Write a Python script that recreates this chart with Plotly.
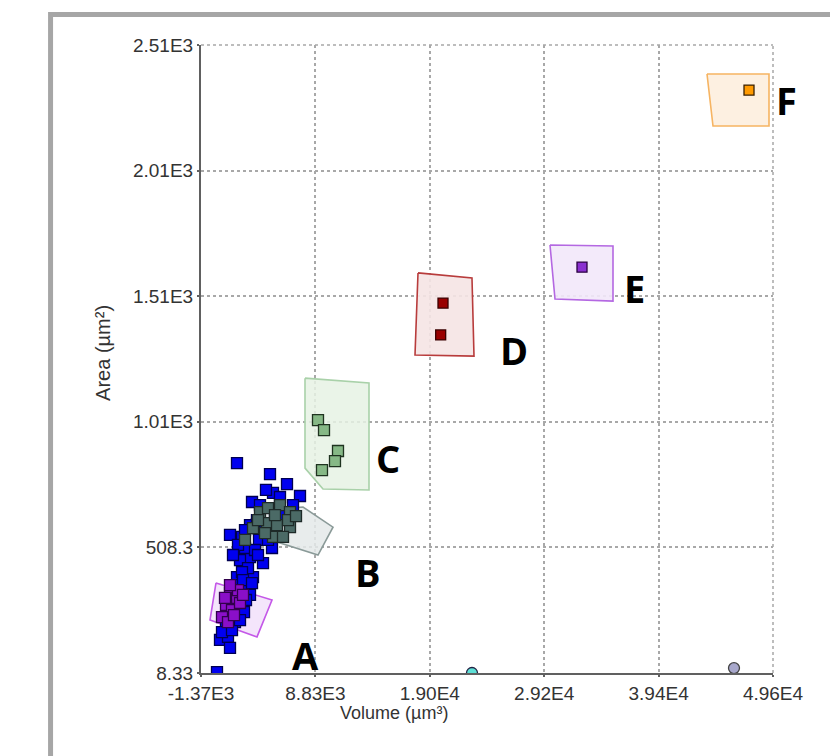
import plotly.graph_objects as go

# ---- axis ticks ----
x_tickvals = [-1370, 8830, 19030, 29230, 39430, 49630]
x_ticktext = ["-1.37E3", "8.83E3", "1.90E4", "2.92E4", "3.94E4", "4.96E4"]
y_tickvals = [8.33, 508.33, 1008.33, 1508.33, 2008.33, 2508.33]
y_ticktext = ["8.33", "508.3", "1.01E3", "1.51E3", "2.01E3", "2.51E3"]

# ---- population points (volume, area) ----
blue_x = [1840, 4782, 6298, 5050, 3177, 7457, 6833, 1216, 2286, 3801, 2999, 4960, 4158, 3266,
          1840, 2731, 324, 1037, 57, 2553, 3445, 2107, 3712, 2821, 2286, 1661, 2375, 2999, 1394,
          1929, 2464, 1037, 859, 1661, 502, 1394, 4336, 5228, 5852, 2999, 1929, 4604, 3623, 2553,
          1483, 3177, 2642, 2107, 3890, 5674, 4425, 1216]
blue_y = [844, 800, 760, 725, 689, 713, 677, 558, 550, 538, 470, 506, 446, 390,
          390, 351, 140, 152, 12, 506, 498, 458, 478, 426, 410, 358, 378, 319, 307,
          279, 251, 251, 199, 211, 171, 179, 577, 617, 637, 597, 518, 538, 617, 577,
          478, 366, 299, 219, 677, 709, 737, 108]

b_x = [3890, 4604, 5674, 6565, 3266, 4515, 5406, 6565, 5050, 5941, 4336, 6387, 7100, 5228, 3712, 2553]
b_y = [649, 665, 677, 649, 585, 605, 597, 589, 550, 550, 565, 617, 633, 637, 617, 538]

a_x = [1216, 1840, 859, 1394, 2107, 502, 1037, 1572, 1929, 2375, 770, 1216]
a_y = [327, 307, 279, 259, 287, 231, 211, 239, 338, 319, 307, 358]

c_x = [9062, 9597, 10845, 10577, 9418]
c_y = [1015, 975, 892, 852, 816]

d_x = [20207, 19999]
d_y = [1481, 1354]

e_x = [32600]
e_y = [1624]

f_x = [47490]
f_y = [2329]

circle_x = [22792, 46152]
circle_y = [8.33, 28]

# ---- gate polygons (volume, area) ----
gate_a_x = [-33, 4960, 3623, -568]
gate_a_y = [367, 299, 152, 219]
gate_b_x = [2107, 4069, 7724, 10399, 9062, 3445]
gate_b_y = [585, 657, 669, 589, 478, 558]
gate_c_x = [7903, 13609, 13609, 9508, 7903]
gate_c_y = [1182, 1163, 737, 741, 824]
gate_d_x = [17978, 22792, 22971, 17710]
gate_d_y = [1601, 1581, 1270, 1274]
gate_e_x = [29747, 35364, 35364, 30193]
gate_e_y = [1712, 1708, 1489, 1497]
gate_f_x = [43745, 49273, 49273, 44280]
gate_f_y = [2393, 2393, 2186, 2186]

labels = ["A", "B", "C", "D", "E", "F"]
label_px = [0.182, 0.292, 0.327, 0.547, 0.757, 1.024]
label_py = [0.029, 0.161, 0.342, 0.514, 0.613, 0.912]

fig = go.Figure()

def gate(xs, ys, line, fill):
    fig.add_trace(go.Scatter(x=xs + xs[:1], y=ys + ys[:1], mode="lines", fill="toself",
                             line=dict(color=line, width=1.6), fillcolor=fill,
                             hoverinfo="skip", showlegend=False))

gate(gate_a_x, gate_a_y, "#c458e8", "rgba(242,225,250,0.85)")
gate(gate_b_x, gate_b_y, "#8a9a98", "rgba(228,233,233,0.85)")
gate(gate_c_x, gate_c_y, "#a9d1a9", "rgba(230,242,228,0.85)")
gate(gate_d_x, gate_d_y, "#b83c3c", "rgba(245,228,228,0.9)")
gate(gate_e_x, gate_e_y, "#b468e2", "rgba(242,232,250,0.9)")
gate(gate_f_x, gate_f_y, "#f6b462", "rgba(253,238,222,0.9)")

def pts(xs, ys, fill, edge, symbol="square", size=11):
    fig.add_trace(go.Scatter(x=xs, y=ys, mode="markers",
                             marker=dict(symbol=symbol, size=size, color=fill,
                                         line=dict(color=edge, width=1.3)),
                             showlegend=False))

pts(blue_x, blue_y, "#0000f0", "#000050")
pts(b_x, b_y, "#4b6a66", "#1e2a28")
pts(a_x, a_y, "#8a0fc8", "#30004a")
pts(c_x, c_y, "#86b886", "#1f3320")
pts(d_x, d_y, "#990000", "#3a0000", size=10)
pts(e_x, e_y, "#8a30d0", "#2a0040", size=10)
pts(f_x, f_y, "#ff9a00", "#3a2000", size=10)
pts(circle_x[:1], circle_y[:1], "#5ee0d6", "#224", symbol="circle", size=11)
pts(circle_x[1:], circle_y[1:], "#a8a8cc", "#444", symbol="circle", size=11)

for t, px, py in zip(labels, label_px, label_py):
    fig.add_annotation(text="<b>" + t + "</b>", x=px, y=py, xref="paper", yref="paper",
                       xanchor="center", yanchor="middle", showarrow=False,
                       font=dict(family="Open Sans", size=38, color="#000"))

fig.add_annotation(text="Volume (µm³)", x=0.3374, y=-0.064, xref="paper", yref="paper",
                   xanchor="center", yanchor="middle", showarrow=False,
                   font=dict(family="Liberation Sans", size=18, color="#333"))
fig.add_annotation(text="Area (µm²)", x=-0.171, y=0.51, xref="paper", yref="paper",
                   xanchor="center", yanchor="middle", showarrow=False, textangle=-90,
                   font=dict(family="Liberation Sans", size=20, color="#333"))

# outer gray frame
fig.add_shape(type="rect", xref="paper", yref="paper", x0=-0.263, x1=1.35, y0=-0.35, y1=1.0486,
              line=dict(color="#a6a6a6", width=5), layer="below")

axis_common = dict(showgrid=True, gridcolor="#a8a8a8", griddash="dot", gridwidth=1.5,
                   showline=True, linecolor="#606060", linewidth=2, zeroline=False,
                   ticks="outside", ticklen=2, tickcolor="#606060", tickwidth=1.5,
                   tickfont=dict(family="Liberation Sans", size=19, color="#333"),
                   mirror=False)

fig.update_xaxes(range=[-1370, 49630], tickmode="array", tickvals=x_tickvals,
                 ticktext=x_ticktext, **axis_common)
fig.update_yaxes(range=[8.33, 2508.33], tickmode="array", tickvals=y_tickvals,
                 ticktext=y_ticktext, **axis_common)

# dotted top/right borders of the plot area
fig.add_shape(type="line", xref="paper", yref="paper", x0=0, x1=1, y0=1, y1=1,
              line=dict(color="#a8a8a8", width=1.5, dash="dot"))
fig.add_shape(type="line", xref="paper", yref="paper", x0=1, x1=1, y0=0, y1=1,
              line=dict(color="#a8a8a8", width=1.5, dash="dot"))

fig.update_layout(width=838, height=756, plot_bgcolor="white", paper_bgcolor="white",
                  margin=dict(l=193, r=73, t=37, b=91), showlegend=False)

fig.write_html("out.html")
